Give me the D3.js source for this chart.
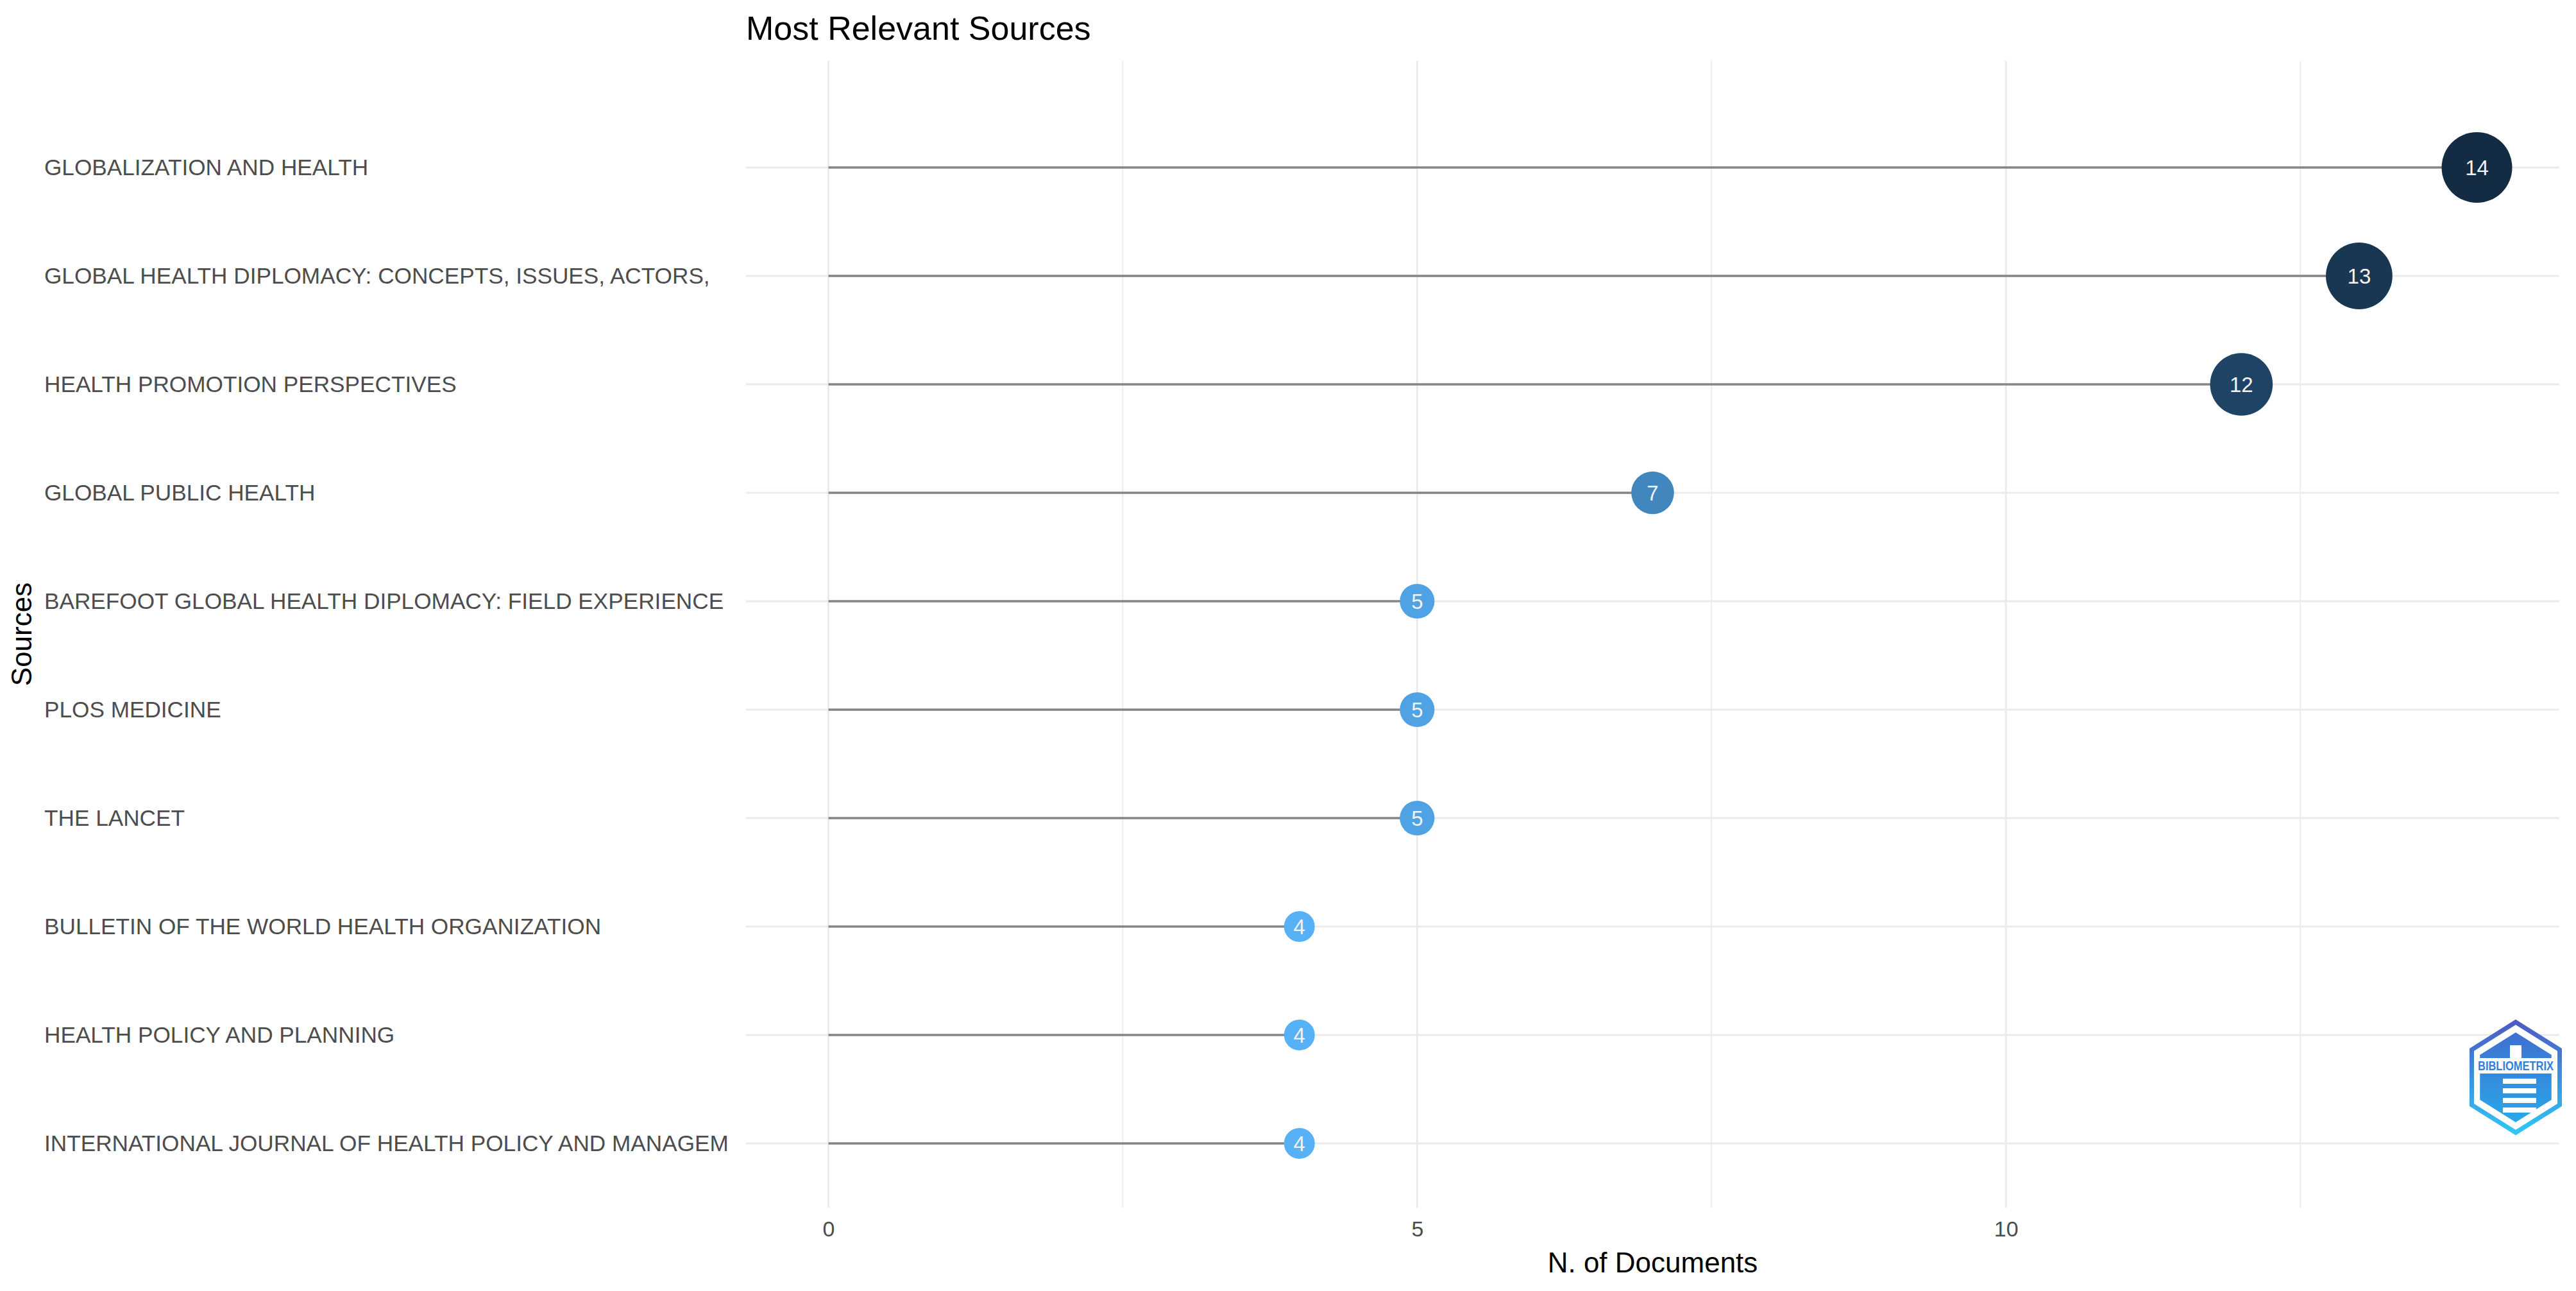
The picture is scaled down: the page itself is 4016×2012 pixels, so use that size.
<!DOCTYPE html>
<html>
<head>
<meta charset="utf-8">
<script src="https://cdn.jsdelivr.net/npm/d3@7"></script>
<style>
  body { margin: 0; background: #fff; }
  text { font-family: "Liberation Sans", Arial, sans-serif; }
</style>
</head>
<body>
<div id="chart"></div>
<script>
const w = 4016
const h = 2012

// data
const sources = [
    'GLOBALIZATION AND HEALTH',
    'GLOBAL HEALTH DIPLOMACY: CONCEPTS, ISSUES, ACTORS,',
    'HEALTH PROMOTION PERSPECTIVES',
    'GLOBAL PUBLIC HEALTH',
    'BAREFOOT GLOBAL HEALTH DIPLOMACY: FIELD EXPERIENCE',
    'PLOS MEDICINE',
    'THE LANCET',
    'BULLETIN OF THE WORLD HEALTH ORGANIZATION',
    'HEALTH POLICY AND PLANNING',
    'INTERNATIONAL JOURNAL OF HEALTH POLICY AND MANAGEM'
]
const docs = [14, 13, 12, 7, 5, 5, 5, 4, 4, 4]
const xTicks = [0, 5, 10]
const xMinor = [2.5, 7.5, 12.5]

const panel = { left: 1163, right: 3990, top: 95, bottom: 1882 }

const svg = d3.select('#chart')
    .append('svg')
    .attr('width', w)
    .attr('height', h)

const xScale = d3.scaleLinear()
    .domain([-0.7, 14.7])
    .range([panel.left, panel.right])

const yScale = d3.scalePoint()
    .domain(sources)
    .range([261, 1782])

const rScale = d3.scaleLinear()
    .domain([4, 14])
    .range([24, 55])

const colour = d3.scaleLinear()
    .domain([4, 14])
    .range(['#56B1F7', '#132B43'])
    .interpolate(d3.interpolateLab)

// grid
const grid = svg.append('g')
grid.selectAll('.minor')
    .data(xMinor)
    .enter()
    .append('line')
    .attr('x1', d => xScale(d)).attr('x2', d => xScale(d))
    .attr('y1', panel.top).attr('y2', panel.bottom)
    .attr('stroke', '#ebebeb').attr('stroke-width', 1.8)
grid.selectAll('.major')
    .data(xTicks)
    .enter()
    .append('line')
    .attr('x1', d => xScale(d)).attr('x2', d => xScale(d))
    .attr('y1', panel.top).attr('y2', panel.bottom)
    .attr('stroke', '#ebebeb').attr('stroke-width', 3)
grid.selectAll('.hgrid')
    .data(sources)
    .enter()
    .append('line')
    .attr('x1', panel.left).attr('x2', panel.right)
    .attr('y1', d => yScale(d)).attr('y2', d => yScale(d))
    .attr('stroke', '#ebebeb').attr('stroke-width', 3)

// lollipop sticks
svg.append('g')
    .selectAll('line')
    .data(docs)
    .enter()
    .append('line')
    .attr('x1', xScale(0))
    .attr('x2', d => xScale(d))
    .attr('y1', (d, i) => yScale(sources[i]))
    .attr('y2', (d, i) => yScale(sources[i]))
    .attr('stroke', '#858585')
    .attr('stroke-width', 3.4)

// bubbles
const dots = svg.append('g')
    .selectAll('g')
    .data(docs)
    .enter()
    .append('g')
    .attr('transform', (d, i) => 'translate(' + xScale(d) + ',' + yScale(sources[i]) + ')')
dots.append('circle')
    .attr('r', d => rScale(d))
    .attr('fill', d => colour(d))
dots.append('text')
    .attr('text-anchor', 'middle')
    .attr('dy', '0.36em')
    .attr('fill', '#f2f2f2')
    .attr('font-size', 33)
    .text(d => d)

// x axis
const xAxis = d3.axisBottom(xScale)
    .tickValues(xTicks)
    .tickSize(0)
    .tickPadding(0)
    .tickFormat(d3.format('d'))
const gx = svg.append('g')
    .attr('transform', 'translate(0,1903)')
    .call(xAxis)
gx.select('.domain').remove()
gx.selectAll('text')
    .attr('font-size', 34)
    .attr('fill', '#4d4d4d')
    .attr('font-family', '"Liberation Sans", Arial, sans-serif')

// y axis, labels left aligned
const yAxis = d3.axisLeft(yScale).tickSize(0)
const gy = svg.append('g')
    .attr('transform', 'translate(69,0)')
    .call(yAxis)
gy.select('.domain').remove()
gy.selectAll('text')
    .attr('x', 0)
    .attr('text-anchor', 'start')
    .attr('font-size', 35.2)
    .attr('fill', '#4d4d4d')
    .attr('font-family', '"Liberation Sans", Arial, sans-serif')

// titles
svg.append('text')
    .attr('x', panel.left)
    .attr('y', 62)
    .attr('font-size', 52)
    .attr('fill', '#000')
    .text('Most Relevant Sources')

svg.append('text')
    .attr('x', (panel.left + panel.right) / 2)
    .attr('y', 1983)
    .attr('text-anchor', 'middle')
    .attr('font-size', 44)
    .text('N. of Documents')

svg.append('text')
    .attr('transform', 'translate(49,' + (panel.top + panel.bottom) / 2 + ') rotate(-90)')
    .attr('text-anchor', 'middle')
    .attr('font-size', 44)
    .text('Sources')

// logo (approximation of the bibliometrix badge)
const logo = svg.append('g').attr('transform', 'translate(3922,1679)')
const defs = svg.append('defs')
const lg = defs.append('linearGradient').attr('id', 'lg').attr('x1', 0).attr('y1', 0).attr('x2', 0).attr('y2', 1)
lg.append('stop').attr('offset', '0%').attr('stop-color', '#4b5cc4')
lg.append('stop').attr('offset', '100%').attr('stop-color', '#2fc6f4')
const lg2 = defs.append('linearGradient').attr('id', 'lg2').attr('x1', 0).attr('y1', 0).attr('x2', 0).attr('y2', 1)
lg2.append('stop').attr('offset', '0%').attr('stop-color', '#3f6fd0')
lg2.append('stop').attr('offset', '100%').attr('stop-color', '#2aa8ea')
const hex = r => d3.range(6).map(k => {
    const a = Math.PI / 3 * k - Math.PI / 2
    return [r * Math.cos(a) * 0.92, r * Math.sin(a)]
})
logo.append('polygon')
    .attr('points', hex(86).join(' '))
    .attr('fill', '#fff')
    .attr('stroke', 'url(#lg)')
    .attr('stroke-width', 7)
logo.append('polygon')
    .attr('points', hex(70).join(' '))
    .attr('fill', 'url(#lg2)')
logo.append('rect')
    .attr('x', -62).attr('y', -30).attr('width', 124).attr('height', 24)
    .attr('fill', '#fff')
logo.append('text')
    .attr('x', 0).attr('y', -11)
    .attr('text-anchor', 'middle')
    .attr('font-size', 20)
    .attr('font-weight', 'bold')
    .attr('fill', '#2f80d8')
    .attr('textLength', 118)
    .attr('lengthAdjust', 'spacingAndGlyphs')
    .text('BIBLIOMETRIX')
logo.append('rect').attr('x', -9).attr('y', -50).attr('width', 18).attr('height', 20).attr('fill', '#fff')
logo.selectAll('.step')
    .data([0, 1, 2, 3])
    .enter()
    .append('rect')
    .attr('x', -20)
    .attr('y', d => 2 + d * 15)
    .attr('width', 52)
    .attr('height', 8)
    .attr('fill', '#fff')
</script>
</body>
</html>
